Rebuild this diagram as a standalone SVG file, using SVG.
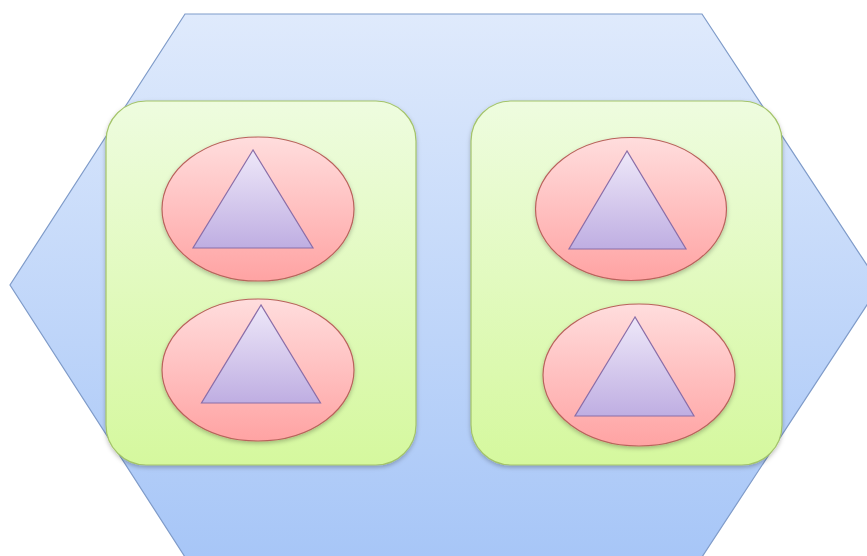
<svg xmlns="http://www.w3.org/2000/svg" width="867" height="556" viewBox="0 0 867 556">
<defs>
<linearGradient id="gHex" x1="0" y1="0" x2="0" y2="1"><stop offset="0" stop-color="#dfeafc"/><stop offset="1" stop-color="#a7c6f7"/></linearGradient>
<linearGradient id="gBox" x1="0" y1="0" x2="0" y2="1"><stop offset="0" stop-color="#eefcdf"/><stop offset="1" stop-color="#d5f89e"/></linearGradient>
<linearGradient id="gEll" x1="0" y1="0" x2="0" y2="1"><stop offset="0" stop-color="#ffdddd"/><stop offset="1" stop-color="#ffa3a3"/></linearGradient>
<linearGradient id="gTri" x1="0" y1="0" x2="0" y2="1"><stop offset="0" stop-color="#eee8f9"/><stop offset="1" stop-color="#bfaee2"/></linearGradient>
<filter id="sh" x="-10%" y="-10%" width="120%" height="125%"><feDropShadow dx="0" dy="2" stdDeviation="2" flood-color="#000" flood-opacity="0.25"/></filter>
</defs>
<style>
.hex{fill:url(#gHex);stroke:#7f9bc9;stroke-width:1.2}
.box{fill:url(#gBox);stroke:#a4c46a;stroke-width:1.2;filter:url(#sh)}
.ell{fill:url(#gEll);stroke:#b9625c;stroke-width:1.2;filter:url(#sh)}
.tri{fill:url(#gTri);stroke:#8a6ea8;stroke-width:1.2;stroke-linejoin:miter}
</style>
<g id="hexagon"><polygon class="hex" points="185,14 702,14 880,285 702,557 185,557 10,285"/></g>
<g id="box-left"><rect class="box" x="106" y="101" width="310" height="364" rx="40" ry="40"/></g>
<g id="box-right"><rect class="box" x="471" y="101" width="311" height="364" rx="40" ry="40"/></g>
<g id="node-lt"><ellipse class="ell" cx="258" cy="209" rx="96" ry="72"/><polygon class="tri" points="253,150 193,248 313,248"/></g>
<g id="node-lb"><ellipse class="ell" cx="258" cy="370" rx="96" ry="71"/><polygon class="tri" points="261,305 201.5,403 320.5,403"/></g>
<g id="node-rt"><ellipse class="ell" cx="631" cy="209" rx="95.5" ry="71.5"/><polygon class="tri" points="627,151 569,249 686,249"/></g>
<g id="node-rb"><ellipse class="ell" cx="639" cy="375" rx="96" ry="71"/><polygon class="tri" points="635,317 575,416 694,416"/></g>
<g id="connectors"/>
</svg>
